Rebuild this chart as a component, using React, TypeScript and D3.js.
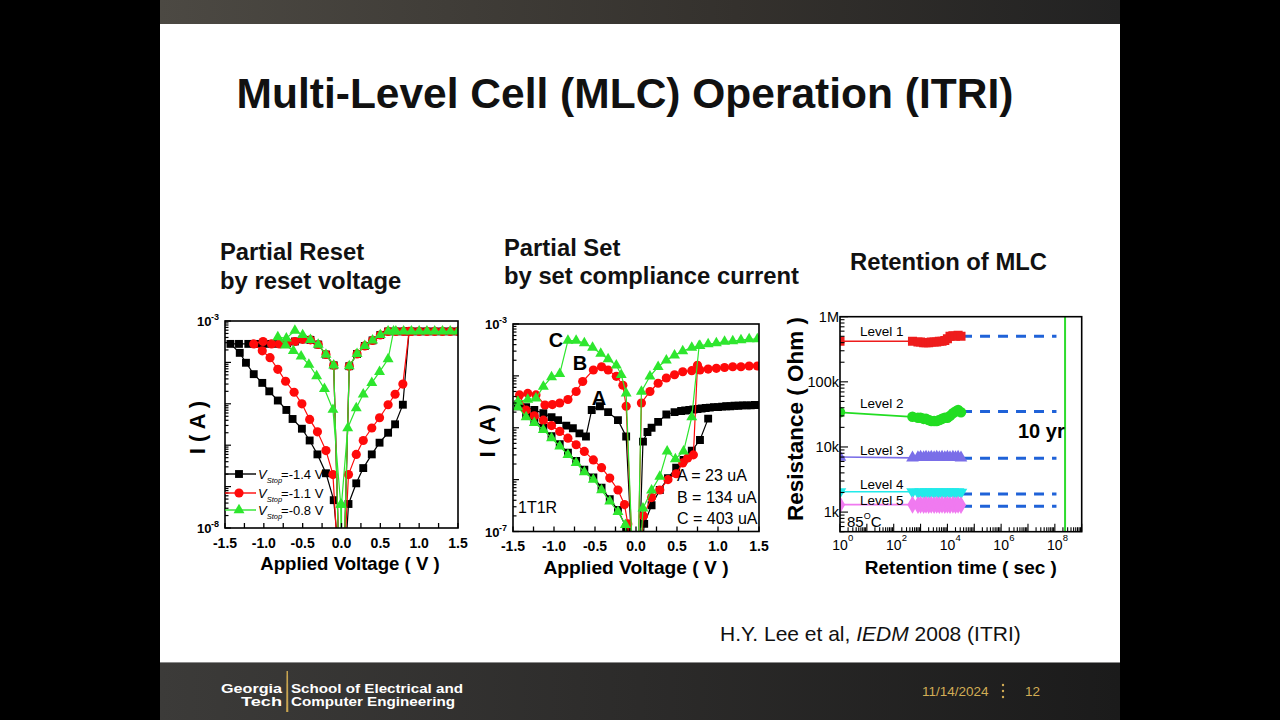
import React from "react";
import * as d3 from "d3";

type Pt = [number, number];

const FONT = "'Liberation Sans', Arial, Helvetica, sans-serif";

// ---------------- Chart 1: Partial Reset (I in A vs V) ----------------
const c1TickLabels = [-1.5, -1.0, -0.5, 0.0, 0.5, 1.0, 1.5];
const c1Legend = ["=-1.4 V", "=-1.1 V", "=-0.8 V"];

const c1BlackNeg: Pt[] = [
  [-0.03, 1e-9], [-0.1, 8.5e-5], [-0.2, 1.55e-4], [-0.3, 2.7e-4], [-0.4, 3.5e-4], [-0.5, 3.6e-4],
  [-0.6, 3.2e-4], [-0.7, 2.9e-4], [-0.8, 2.8e-4], [-0.9, 2.8e-4], [-1.0, 2.8e-4], [-1.1, 2.8e-4],
  [-1.2, 2.8e-4], [-1.32, 2.8e-4], [-1.43, 2.8e-4],
  [-1.31, 1.7e-4], [-1.23, 9.8e-5], [-1.13, 5.2e-5], [-1.02, 3.2e-5], [-0.93, 2.0e-5], [-0.82, 1.2e-5],
  [-0.71, 7.1e-6], [-0.63, 4.3e-6], [-0.51, 2.5e-6], [-0.41, 1.3e-6], [-0.31, 6.0e-7], [-0.2, 2.1e-7],
  [-0.1, 4.7e-8], [-0.02, 1e-9],
];
const c1BlackPosLower: Pt[] = [
  [0.04, 1e-9], [0.09, 3.8e-8], [0.19, 1.2e-7], [0.28, 2.8e-7], [0.39, 6.0e-7], [0.49, 1.15e-6],
  [0.6, 2.0e-6], [0.69, 3.2e-6], [0.79, 9.5e-6], [0.87, 5.6e-4],
];
const c1RedNeg: Pt[] = [
  [-0.03, 1e-9], [-0.1, 8.5e-5], [-0.2, 1.55e-4], [-0.3, 2.7e-4], [-0.4, 3.5e-4], [-0.5, 3.6e-4],
  [-0.6, 3.2e-4], [-0.7, 2.9e-4], [-0.8, 2.8e-4], [-0.9, 2.8e-4], [-1.01, 3.2e-4], [-1.13, 2.8e-4],
  [-1.02, 1.9e-4], [-0.92, 1.3e-4], [-0.82, 6.8e-5], [-0.72, 3.5e-5], [-0.61, 1.9e-5], [-0.51, 1.0e-5],
  [-0.41, 4.2e-6], [-0.31, 2.1e-6], [-0.2, 7.4e-7], [-0.11, 1.95e-7], [-0.04, 1e-9],
];
const c1RedPosLower: Pt[] = [
  [0.03, 1e-9], [0.09, 1.95e-7], [0.19, 6.0e-7], [0.28, 1.3e-6], [0.39, 2.6e-6], [0.49, 4.6e-6],
  [0.6, 9.5e-6], [0.69, 1.7e-5], [0.79, 3.0e-5], [0.87, 5.6e-4],
];
const c1GreenNeg: Pt[] = [
  [-0.03, 1e-9], [-0.1, 8.5e-5], [-0.2, 1.55e-4], [-0.3, 2.7e-4], [-0.4, 3.5e-4], [-0.5, 4.6e-4],
  [-0.6, 5.9e-4], [-0.71, 3.8e-4], [-0.82, 4.1e-4],
  [-0.72, 2.6e-4], [-0.62, 1.9e-4], [-0.52, 1.4e-4], [-0.42, 8.9e-5], [-0.32, 4.7e-5], [-0.22, 2.3e-5],
  [-0.11, 7.2e-6], [-0.01, 3.7e-8], [0.0, 1e-9],
];
const c1GreenPosLower: Pt[] = [
  [0.0, 1e-9], [0.0, 3.7e-8], [0.08, 2.6e-6], [0.19, 7.9e-6], [0.28, 1.7e-5], [0.39, 3.2e-5],
  [0.49, 5.9e-5], [0.6, 1.2e-4], [0.67, 5.6e-4],
];
const c1PosUpper: Pt[] = [
  [1.5, 5.6e-4], [1.4, 5.6e-4], [1.3, 5.6e-4], [1.2, 5.6e-4], [1.1, 5.6e-4], [1.0, 5.6e-4],
  [0.9, 5.6e-4], [0.8, 5.6e-4], [0.7, 5.6e-4], [0.6, 5.6e-4], [0.5, 4.6e-4], [0.4, 3.4e-4],
  [0.3, 2.5e-4], [0.2, 1.6e-4], [0.1, 8.1e-5], [0.03, 1e-9],
];

// ---------------- Chart 2: Partial Set ----------------
const c2Legend = ["A = 23  uA", "B = 134 uA", "C = 403 uA"];

const c2BlackNeg: Pt[] = [
  [-0.03, 1e-8], [-0.12, 6.8e-6], [-0.22, 1.4e-5], [-0.34, 2.0e-5], [-0.44, 2.6e-5], [-0.54, 2.2e-5],
  [-0.61, 6.8e-6], [-0.69, 7.8e-6], [-0.77, 9.8e-6], [-0.85, 1.1e-5], [-0.95, 1.4e-5], [-1.03, 1.6e-5],
  [-1.13, 1.9e-5], [-1.24, 2.2e-5], [-1.34, 2.5e-5], [-1.44, 2.8e-5],
  [-1.44, 2.6e-5], [-1.34, 1.7e-5], [-1.24, 1.4e-5], [-1.13, 1.0e-5], [-1.03, 6.9e-6], [-0.93, 4.8e-6],
  [-0.83, 3.3e-6], [-0.73, 2.3e-6], [-0.63, 1.55e-6], [-0.52, 1.1e-6], [-0.42, 7.0e-7], [-0.32, 4.2e-7],
  [-0.22, 2.6e-7], [-0.12, 1.2e-7], [-0.08, 1e-8],
];
const c2BlackPosLower: Pt[] = [
  [0.05, 1e-8], [0.1, 1.4e-7], [0.19, 3.2e-7], [0.29, 6.3e-7], [0.39, 1.07e-6], [0.49, 1.7e-6],
  [0.58, 2.4e-6], [0.68, 3.6e-6], [0.78, 5.8e-6], [0.88, 1.5e-5],
];
const c2BlackPosUpper: Pt[] = [
  [1.5, 2.75e-5], [1.45, 2.75e-5], [1.4, 2.7e-5], [1.35, 2.7e-5], [1.3, 2.7e-5], [1.25, 2.65e-5],
  [1.2, 2.65e-5], [1.15, 2.6e-5], [1.1, 2.6e-5], [1.05, 2.55e-5], [1.0, 2.5e-5], [0.95, 2.5e-5],
  [0.9, 2.45e-5], [0.85, 2.4e-5], [0.8, 2.35e-5], [0.75, 2.3e-5], [0.7, 2.25e-5], [0.65, 2.2e-5],
  [0.6, 2.15e-5], [0.55, 2.1e-5], [0.47, 2.0e-5], [0.37, 1.8e-5], [0.27, 1.3e-5], [0.19, 1.0e-5],
  [0.14, 8.3e-6], [0.085, 5.4e-6], [0.03, 1e-8],
];
const c2RedNeg: Pt[] = [
  [-0.03, 1e-8], [-0.12, 2.6e-5], [-0.16, 6.6e-5], [-0.24, 9.8e-5], [-0.34, 1.3e-4], [-0.42, 1.5e-4],
  [-0.52, 1.3e-4], [-0.65, 7.8e-5], [-0.73, 5.0e-5], [-0.83, 3.5e-5], [-0.93, 3.0e-5], [-1.02, 2.8e-5],
  [-1.11, 2.75e-5], [-1.22, 4.3e-5], [-1.32, 4.6e-5], [-1.42, 4.3e-5],
  [-1.34, 2.2e-5], [-1.24, 1.7e-5], [-1.13, 1.4e-5], [-1.03, 1.1e-5], [-0.93, 8.5e-6], [-0.83, 6.3e-6],
  [-0.73, 4.7e-6], [-0.63, 3.5e-6], [-0.52, 2.4e-6], [-0.42, 1.7e-6], [-0.32, 1.07e-6], [-0.22, 6.3e-7],
  [-0.14, 3.3e-7], [-0.1, 1.4e-7], [-0.06, 1e-8],
];
const c2RedPosLower: Pt[] = [
  [0.03, 1e-8], [0.09, 2.0e-7], [0.19, 4.5e-7], [0.29, 6.3e-7], [0.39, 1.0e-6], [0.49, 1.3e-6],
  [0.57, 2.1e-6], [0.63, 2.6e-6], [0.7, 3.0e-6], [0.75, 1.6e-4],
];
const c2RedPosUpper: Pt[] = [
  [1.48, 1.55e-4], [1.38, 1.55e-4], [1.28, 1.5e-4], [1.18, 1.5e-4], [1.08, 1.45e-4], [0.98, 1.4e-4],
  [0.88, 1.35e-4], [0.78, 1.3e-4], [0.68, 1.26e-4], [0.57, 1.2e-4], [0.47, 1.05e-4], [0.37, 9.1e-5],
  [0.27, 7.2e-5], [0.17, 5.0e-5], [0.066, 3.0e-5], [0.02, 1e-8],
];
const c2GreenNeg: Pt[] = [
  [-0.03, 1e-8], [-0.12, 4.6e-5], [-0.18, 1.05e-4], [-0.24, 1.6e-4], [-0.34, 2.1e-4], [-0.43, 2.7e-4],
  [-0.53, 3.5e-4], [-0.63, 4.3e-4], [-0.73, 4.8e-4], [-0.83, 4.8e-4], [-0.93, 1.1e-4], [-1.03, 9.5e-5],
  [-1.13, 6.2e-5], [-1.22, 3.7e-5], [-1.32, 3.5e-5], [-1.44, 3.2e-5],
  [-1.44, 2.5e-5], [-1.34, 1.6e-5], [-1.24, 1.25e-5], [-1.13, 9.1e-6], [-1.03, 6.3e-6], [-0.93, 4.4e-6],
  [-0.83, 3.0e-6], [-0.73, 2.1e-6], [-0.63, 1.4e-6], [-0.52, 1.0e-6], [-0.42, 6.3e-7], [-0.32, 3.8e-7],
  [-0.22, 2.4e-7], [-0.13, 1.35e-7], [-0.08, 1e-8],
];
const c2GreenPosLower: Pt[] = [
  [0.03, 1e-8], [0.085, 2.8e-7], [0.19, 6.2e-7], [0.29, 1.15e-6], [0.38, 3.5e-6], [0.48, 2.5e-6],
  [0.58, 3.5e-6], [0.68, 1.6e-5], [0.77, 3.8e-4],
];
const c2GreenPosUpper: Pt[] = [
  [1.48, 5.1e-4], [1.38, 5.1e-4], [1.28, 4.9e-4], [1.18, 4.7e-4], [1.08, 4.6e-4], [0.98, 4.3e-4],
  [0.88, 4.1e-4], [0.78, 3.8e-4], [0.68, 3.5e-4], [0.57, 3.0e-4], [0.47, 2.5e-4], [0.37, 2.0e-4],
  [0.27, 1.5e-4], [0.17, 9.8e-5], [0.066, 5.0e-5], [0.02, 1e-8],
];

// ---------------- Chart 3: Retention ----------------
const retTimes = [1, 500, 800, 1000, 1300, 1600, 2000, 2500, 3200, 4000, 5000, 6300, 8000, 10000, 12500, 16000, 20000, 25000, 32000];
const level1R = [4.2e5, 4.2e5, 4.1e5, 4.1e5, 4.0e5, 4.0e5, 4.0e5, 4.1e5, 4.1e5, 4.1e5, 4.2e5, 4.2e5, 4.3e5, 4.6e5, 5.0e5, 5.1e5, 5.0e5, 5.2e5, 5.0e5];
const level2R = [3.4e4, 2.9e4, 2.8e4, 2.8e4, 2.7e4, 2.7e4, 2.6e4, 2.5e4, 2.5e4, 2.5e4, 2.6e4, 2.7e4, 2.8e4, 2.8e4, 3.0e4, 3.3e4, 3.5e4, 3.7e4, 3.4e4];
const level3R = [7.0e3, 6.8e3, 6.9e3, 7.0e3, 6.9e3, 7.0e3, 6.9e3, 7.0e3, 6.9e3, 7.0e3, 6.9e3, 7.0e3, 6.9e3, 7.0e3, 6.9e3, 7.0e3, 6.9e3, 7.0e3, 6.8e3];
const level4R = [2.05e3, 2.05e3, 2.0e3, 2.05e3, 2.0e3, 2.05e3, 2.0e3, 2.05e3, 2.0e3, 2.05e3, 2.0e3, 2.05e3, 2.0e3, 2.05e3, 2.0e3, 2.05e3, 2.0e3, 2.05e3, 2.0e3];
const level5R = [1.3e3, 1.3e3, 1.28e3, 1.3e3, 1.28e3, 1.3e3, 1.28e3, 1.3e3, 1.28e3, 1.3e3, 1.28e3, 1.3e3, 1.28e3, 1.3e3, 1.28e3, 1.3e3, 1.28e3, 1.3e3, 1.28e3];
const levelNames = ["Level 1", "Level 2", "Level 3", "Level 4", "Level 5"];
const extrapStart = 3.5e4;
const extrapEnd = 1.15e8;
const extrapR = [5.0e5, 3.5e4, 6.7e3, 1.9e3, 1.23e3];
const tenYears = 2.4e8;
const c3XTickExps = [0, 2, 4, 6, 8];
const c3YTicks: [number, string][] = [[1e6, "1M"], [1e5, "100k"], [1e4, "10k"], [1e3, "1k"]];

// ---------------- symbols ----------------
const SYM: Record<string, string> = {
  square: d3.symbol().type(d3.symbolSquare).size(62)() as string,
  circle: d3.symbol().type(d3.symbolCircle).size(66)() as string,
  triangle: d3.symbol().type(d3.symbolTriangle).size(52)() as string,
  diamond: d3.symbol().type(d3.symbolDiamond).size(70)() as string,
};

const BLACK = "#000000";
const RED = "#ff0a0a";
const GREEN = "#2ee62e";

interface IVSeries { color: string; shape: string; lines: Pt[][] }

function isMajor(t: number) {
  const l = Math.log10(t);
  return Math.abs(l - Math.round(l)) < 1e-6;
}

function IVPlot(props: {
  id: string; left: number; right: number; top: number; bottom: number;
  yMin: number; yMax: number; series: IVSeries[]; expTop: string; expBottom: string;
  tickBase: number; titleBase: number; titleX: number; titleSize: number; yTitleX: number;
}) {
  const { id, left, right, top, bottom, yMin, yMax, series } = props;
  const x = d3.scaleLinear().domain([-1.5, 1.5]).range([left, right]);
  const y = d3.scaleLog().domain([yMin, yMax]).range([bottom, top]);
  const line = d3.line<Pt>().x((d) => x(d[0])).y((d) => y(d[1]));
  const xt = d3.range(-1.5, 1.501, 0.25);
  const yt = y.ticks();
  const fmt = (v: number) => d3.format(".1f")(v).replace("\u2212", "-");
  return (
    <g>
      <defs>
        <clipPath id={id}>
          <rect x={left} y={top} width={right - left} height={bottom - top} />
        </clipPath>
      </defs>
      <g clipPath={`url(#${id})`}>
        {series.map((s, i) => (
          <g key={i}>
            {s.lines.map((ln, j) => (
              <path key={j} d={line(ln) as string} fill="none" stroke={s.color} strokeWidth={1.2} />
            ))}
            {s.lines.map((ln, j) =>
              ln.map((p, k) => (
                <path key={`${j}-${k}`} d={SYM[s.shape]} transform={`translate(${x(p[0])},${y(p[1])})`} fill={s.color} />
              ))
            )}
          </g>
        ))}
      </g>
      <rect x={left} y={top} width={right - left} height={bottom - top} fill="none" stroke="#000" strokeWidth={1.6} />
      {xt.map((t, i) => (
        <line key={i} x1={x(t)} x2={x(t)} y1={bottom} y2={bottom - 5} stroke="#000" strokeWidth={1.3} />
      ))}
      {yt.map((t, i) => (
        <line key={i} x1={left} x2={left + (isMajor(t) ? 6 : 3.5)} y1={y(t)} y2={y(t)} stroke="#000" strokeWidth={1.2} />
      ))}
      {c1TickLabels.map((t, i) => (
        <text key={i} x={x(t)} y={props.tickBase} textAnchor="middle" fontFamily={FONT} fontWeight="bold" fontSize={14}>
          {fmt(t)}
        </text>
      ))}
      <text x={left - 28} y={top + 5} fontFamily={FONT} fontSize={13} fontWeight="bold">10</text>
      <text x={left - 14} y={top - 1} fontFamily={FONT} fontSize={9} fontWeight="bold">{props.expTop}</text>
      <text x={left - 28} y={bottom + 5} fontFamily={FONT} fontSize={13} fontWeight="bold">10</text>
      <text x={left - 14} y={bottom - 1} fontFamily={FONT} fontSize={9} fontWeight="bold">{props.expBottom}</text>
      <text x={props.titleX} y={props.titleBase} textAnchor="middle" fontFamily={FONT} fontWeight="bold" fontSize={props.titleSize}>
        Applied Voltage ( V )
      </text>
      <text transform={`translate(${props.yTitleX},${(top + bottom) / 2 + 3}) rotate(-90)`} textAnchor="middle" fontFamily={FONT} fontWeight="bold" fontSize={22}>
        I ( A )
      </text>
    </g>
  );
}

function RetentionPlot() {
  const left = 840, right = 1081.7, top = 316.7, bottom = 531.7;
  const x = d3.scaleLog().domain([1, 1e9]).range([left, right]);
  const y = d3.scaleLog().domain([500, 1e6]).range([bottom, top]);
  const levels = [
    { r: level1R, color: "#ee1c1c", shape: "square", rot: 0 },
    { r: level2R, color: "#22dd22", shape: "circle", rot: 0 },
    { r: level3R, color: "#7a6ee8", shape: "triangle", rot: 0 },
    { r: level4R, color: "#22eaea", shape: "triangle", rot: 180 },
    { r: level5R, color: "#f07af0", shape: "diamond", rot: 0 },
  ];
  const labelY = [335.5, 408, 455, 488.5, 504.5];
  const xt = x.ticks();
  const yt = y.ticks();
  const line = d3.line<number>().x((_, i) => x(retTimes[i])).y((d) => y(d));
  return (
    <g>
      <defs>
        <clipPath id="c3">
          <rect x={left} y={top} width={right - left} height={bottom - top} />
        </clipPath>
      </defs>
      <g clipPath="url(#c3)">
        {levels.map((lv, i) => (
          <line key={`d${i}`} x1={x(extrapStart)} x2={x(extrapEnd)} y1={y(extrapR[i])} y2={y(extrapR[i])}
            stroke="#1f62d8" strokeWidth={3} strokeDasharray="10 8" />
        ))}
        {levels.map((lv, i) => (
          <g key={i}>
            <path d={line(lv.r.slice(0, 2)) as string} fill="none" stroke={lv.color} strokeWidth={1.6} />
            {lv.r.map((v, k) => (
              <path key={k} d={SYM[lv.shape]} fill={lv.color}
                transform={`translate(${x(retTimes[k])},${y(v)}) rotate(${lv.rot}) scale(1.15)`} />
            ))}
          </g>
        ))}
        <line x1={x(tenYears)} x2={x(tenYears)} y1={top} y2={bottom} stroke="#2edc2e" strokeWidth={2} />
      </g>
      <rect x={left} y={top} width={right - left} height={bottom - top} fill="none" stroke="#000" strokeWidth={1.6} />
      {xt.map((t, i) => (
        <line key={i} x1={x(t)} x2={x(t)} y1={bottom} y2={bottom - (isMajor(t) ? 8 : 4.5)} stroke="#000" strokeWidth={1.1} />
      ))}
      {yt.map((t, i) => (
        <line key={i} x1={left} x2={left + (isMajor(t) ? 8 : 4.5)} y1={y(t)} y2={y(t)} stroke="#000" strokeWidth={1.1} />
      ))}
      {c3XTickExps.map((e, i) => (
        <g key={i}>
          <text x={x(Math.pow(10, e))} y={550} textAnchor="middle" fontFamily={FONT} fontSize={14}>10</text>
          <text x={x(Math.pow(10, e)) + 8} y={541} fontFamily={FONT} fontSize={9.5}>{e}</text>
        </g>
      ))}
      {c3YTicks.map(([v, s], i) => (
        <text key={i} x={left - 1} y={y(v) + 5} textAnchor="end" fontFamily={FONT} fontSize={14.5}>{s}</text>
      ))}
      {levelNames.map((n, i) => (
        <text key={i} x={860} y={labelY[i]} fontFamily={FONT} fontSize={13.5}>{n}</text>
      ))}
      <text x={847} y={527} fontFamily={FONT} fontSize={15}>
        85<tspan fontSize={9} dy={-8}>O</tspan><tspan dy={8}>C</tspan>
      </text>
      <text x={1018} y={438} fontFamily={FONT} fontWeight="bold" fontSize={20}>10 yr</text>
      <text x={(left + right) / 2} y={574} textAnchor="middle" fontFamily={FONT} fontWeight="bold" fontSize={19}>
        Retention time ( sec )
      </text>
      <text transform={`translate(803,419) rotate(-90)`} textAnchor="middle" fontFamily={FONT} fontWeight="bold" fontSize={22.5}>
        Resistance ( Ohm )
      </text>
    </g>
  );
}

export default function App() {
  const s1: IVSeries[] = [
    { color: BLACK, shape: "square", lines: [c1BlackNeg, c1BlackPosLower, c1PosUpper] },
    { color: RED, shape: "circle", lines: [c1RedNeg, c1RedPosLower, c1PosUpper] },
    { color: GREEN, shape: "triangle", lines: [c1GreenNeg, c1GreenPosLower, c1PosUpper] },
  ];
  const s2: IVSeries[] = [
    { color: BLACK, shape: "square", lines: [c2BlackNeg, c2BlackPosLower, c2BlackPosUpper] },
    { color: RED, shape: "circle", lines: [c2RedNeg, c2RedPosLower, c2RedPosUpper] },
    { color: GREEN, shape: "triangle", lines: [c2GreenNeg, c2GreenPosLower, c2GreenPosUpper] },
  ];
  const legendColors = [BLACK, RED, GREEN];
  const legendShapes = ["square", "circle", "triangle"];
  const legendY = [474, 493, 510];
  return (
    <svg width={1280} height={720} style={{ position: "fixed", left: 0, top: 0, display: "block" }}>
      <defs>
        <linearGradient id="topbar" x1="0" x2="1" y1="0" y2="0">
          <stop offset="0" stopColor="#4c4943" />
          <stop offset="0.6" stopColor="#34312d" />
          <stop offset="1" stopColor="#222222" />
        </linearGradient>
        <linearGradient id="footbar" x1="0" x2="1" y1="0" y2="0">
          <stop offset="0" stopColor="#3c3b39" />
          <stop offset="0.5" stopColor="#2c2b2a" />
          <stop offset="1" stopColor="#1b1b1b" />
        </linearGradient>
      </defs>
      <rect x={0} y={0} width={1280} height={720} fill="#000" />
      <rect x={160} y={0} width={960} height={24} fill="url(#topbar)" />
      <rect x={160} y={24} width={960} height={638} fill="#ffffff" />
      <rect x={160} y={662} width={960} height={58} fill="url(#footbar)" />
      <line x1={160} x2={1120} y1={662.5} y2={662.5} stroke="#8a8a8a" strokeWidth={1} />

      <text x={625} y={108} textAnchor="middle" fontFamily={FONT} fontWeight="bold" fontSize={42.5} fill="#111">
        Multi-Level Cell (MLC) Operation (ITRI)
      </text>

      <text x={220} y={260} fontFamily={FONT} fontWeight="bold" fontSize={23.8} fill="#111">Partial Reset</text>
      <text x={220} y={289} fontFamily={FONT} fontWeight="bold" fontSize={23.8} fill="#111">by reset voltage</text>
      <text x={504} y={256} fontFamily={FONT} fontWeight="bold" fontSize={23.8} fill="#111">Partial Set</text>
      <text x={504} y={284} fontFamily={FONT} fontWeight="bold" fontSize={23.8} fill="#111">by set compliance current</text>
      <text x={850} y={270} fontFamily={FONT} fontWeight="bold" fontSize={23.8} fill="#111">Retention of MLC</text>

      <IVPlot id="c1" left={225} right={458} top={321} bottom={528} yMin={1e-8} yMax={1e-3} series={s1}
        expTop="-3" expBottom="-8" tickBase={548} titleBase={570} titleX={350} titleSize={18.6} yTitleX={205} />
      {c1Legend.map((t, i) => (
        <g key={i}>
          <line x1={225} x2={256} y1={legendY[i]} y2={legendY[i]} stroke={legendColors[i]} strokeWidth={1.4} />
          <path d={SYM[legendShapes[i]]} transform={`translate(239,${legendY[i]})`} fill={legendColors[i]} />
          <text x={258} y={legendY[i] + 4.5} fontFamily={FONT} fontSize={13}>
            <tspan fontStyle="italic">V</tspan>
            <tspan fontStyle="italic" fontSize={7.5} dy={4}>Stop</tspan>
            <tspan dx={-1} dy={-4}>{t}</tspan>
          </text>
        </g>
      ))}

      <IVPlot id="c2" left={513} right={759} top={324} bottom={531.5} yMin={1e-7} yMax={1e-3} series={s2}
        expTop="-3" expBottom="-7" tickBase={551} titleBase={574} titleX={636} titleSize={19.2} yTitleX={495} />
      <text x={556} y={347} textAnchor="middle" fontFamily={FONT} fontWeight="bold" fontSize={20}>C</text>
      <text x={580} y={370} textAnchor="middle" fontFamily={FONT} fontWeight="bold" fontSize={20}>B</text>
      <text x={599} y={405} textAnchor="middle" fontFamily={FONT} fontWeight="bold" fontSize={20}>A</text>
      {c2Legend.map((t, i) => (
        <text key={i} x={677} y={481 + i * 21.5} fontFamily={FONT} fontSize={16}>{t}</text>
      ))}
      <text x={518} y={513} fontFamily={FONT} fontSize={16}>1T1R</text>

      <RetentionPlot />

      <text x={720} y={641} fontFamily={FONT} fontSize={21} fill="#111">
        H.Y. Lee et al, <tspan fontStyle="italic">IEDM</tspan> 2008 (ITRI)
      </text>

      {/* footer */}
      <text x={282} y={693} textAnchor="end" fontFamily={FONT} fontWeight="bold" fontSize={12.5} fill="#fff"
        textLength={61} lengthAdjust="spacingAndGlyphs">Georgia</text>
      <text x={282} y={706} textAnchor="end" fontFamily={FONT} fontWeight="bold" fontSize={12.5} fill="#fff"
        textLength={41} lengthAdjust="spacingAndGlyphs">Tech</text>
      <path d="M286.5,671 L288,671 L288.3,712 L286.2,712 Z" fill="#c9a550" />
      <text x={291} y={693} fontFamily={FONT} fontWeight="bold" fontSize={12.5} fill="#fff"
        textLength={172} lengthAdjust="spacingAndGlyphs">School of Electrical and</text>
      <text x={291} y={706} fontFamily={FONT} fontWeight="bold" fontSize={12.5} fill="#fff"
        textLength={164} lengthAdjust="spacingAndGlyphs">Computer Engineering</text>
      <text x={922} y={696} fontFamily={FONT} fontSize={13.5} fill="#d2ad55">11/14/2024</text>
      <circle cx={1003} cy={685} r={1.2} fill="#d2ad55" />
      <circle cx={1003} cy={691} r={1.2} fill="#d2ad55" />
      <circle cx={1003} cy={697} r={1.2} fill="#d2ad55" />
      <text x={1025} y={696} fontFamily={FONT} fontSize={13.5} fill="#d2ad55">12</text>
    </svg>
  );
}
